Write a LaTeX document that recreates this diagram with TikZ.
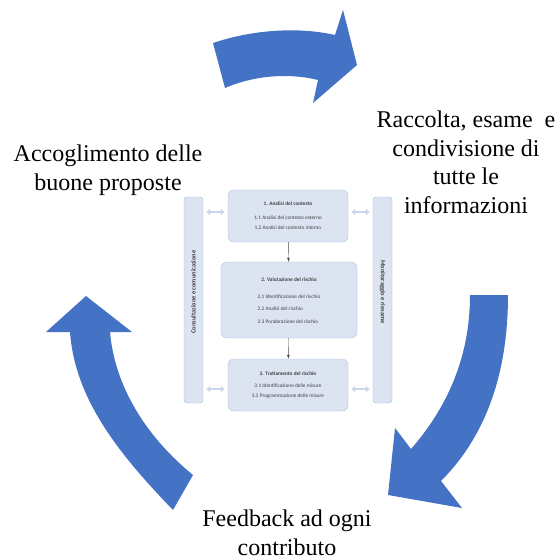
\documentclass[tikz,border=0pt]{standalone}
\usepackage{fontspec}
\setmainfont{Liberation Serif}
\newfontfamily\smallsans{Carlito}
\usetikzlibrary{calc,arrows.meta}
\definecolor{arrowblue}{HTML}{4472C4}
\definecolor{boxfill}{HTML}{DCE4F2}
\definecolor{boxline}{HTML}{A9BCDB}
\definecolor{boxtext}{HTML}{404040}
\definecolor{linkfill}{HTML}{C9D5EA}

\begin{document}
\begin{tikzpicture}[x=1pt,y=-1pt,
                    bigarrow/.style={fill=arrowblue},
                    caption/.style={align=center,inner sep=0pt,anchor=north,
                                    font=\fontsize{24}{28.5}\selectfont},
                    stage/.style={draw=boxline,fill=boxfill,rounded corners=6pt,inner sep=0pt,
                                  font=\smallsans\fontsize{5.3}{10}\selectfont,text=boxtext},
                    bar/.style={draw=boxline,fill=boxfill,rounded corners=3pt,inner sep=0pt,
                                minimum width=19pt,minimum height=206pt},
                    barlabel/.style={font=\smallsans\bfseries\fontsize{6.4}{7}\selectfont,text=boxtext,inner sep=0pt},
                    flow/.style={-latex,gray!60!black,thin},
                    link/.style={{Latex[length=4pt,width=7pt]}-{Latex[length=4pt,width=7pt]},
                                 linkfill,line width=2.5pt,shorten >=3pt,shorten <=3pt}]
  \useasboundingbox (0,0) rectangle (558,559);

  % the four curved arrows
  \fill[bigarrow] (213,43) .. controls (255,29) and (300,27) .. (335,35) -- (343,10) -- (357,65)
    -- (313,103) -- (318,80) .. controls (290,73) and (255,75) .. (225,88) -- cycle;
  \fill[bigarrow] (470,295) -- (508,295) .. controls (508,380) and (482,440) .. (441,481)
    -- (462,508) -- (388,495) -- (395,428) -- (411,449) .. controls (445,410) and (470,360) .. (470,295) -- cycle;
  \fill[bigarrow] (173,510) .. controls (120,455) and (75,400) .. (70,332) -- (46,332) -- (86,296)
    -- (132,332) -- (110,332) .. controls (115,390) and (150,440) .. (193,475) -- cycle;

  % captions
  \node[caption] (accoglimento) at (108,145) {Accoglimento delle\\buone proposte};
  \node[caption] (raccolta) at (466,111) {Raccolta, esame~~e\\condivisione di\\tutte le\\informazioni};
  \node[caption] (feedback) at (287,510) {Feedback ad ogni\\contributo};

  % central scheme
  \node[bar] (consultazione) at (193.5,300) {};
  \node[bar] (monitoraggio) at (382.5,300) {};
  \node[barlabel,rotate=90] (consultazionetxt) at (193.5,292) {Consultazione e comunicazione};
  \node[barlabel,rotate=-90] (monitoraggiotxt) at (382.5,292) {Monitoraggio e riesame};

  \node[stage,minimum width=120pt,minimum height=52pt,align=center] (analisi) at (288,216)
    {\textbf{1. Analisi del contesto}\\[4pt]1.1 Analisi del contesto esterno\\1.2 Analisi del contesto interno};
  \node[stage,minimum width=136pt,minimum height=76pt] (valutazione) at (289,300)
    {\begin{tabular}{@{}l@{}}\multicolumn{1}{@{}c@{}}{\textbf{2. Valutazione del rischio}}\\[7pt]
     2.1 Identificazione del rischio\\[2.5pt]2.2 Analisi del rischio\\[2.5pt]2.3 Ponderazione del rischio\end{tabular}};
  \node[stage,minimum width=120pt,minimum height=52pt,align=center] (trattamento) at (288,385)
    {\textbf{3. Trattamento del rischio}\\[2pt]3.1 Identificazione delle misure\\3.2 Programmazione delle misure};

  \draw[flow] (analisi) -- (valutazione);
  \draw[flow] (valutazione) -- (trattamento);

  \draw[link] ($(consultazione.east |- analisi.west)+(0,-4)$) -- ($(analisi.west)+(0,-4)$);
  \draw[link] ($(monitoraggio.west |- analisi.east)+(0,-4)$) -- ($(analisi.east)+(0,-4)$);
  \draw[link] ($(consultazione.east |- trattamento.west)+(0,4)$) -- ($(trattamento.west)+(0,4)$);
  \draw[link] ($(monitoraggio.west |- trattamento.east)+(0,4)$) -- ($(trattamento.east)+(0,4)$);
\end{tikzpicture}
\end{document}
